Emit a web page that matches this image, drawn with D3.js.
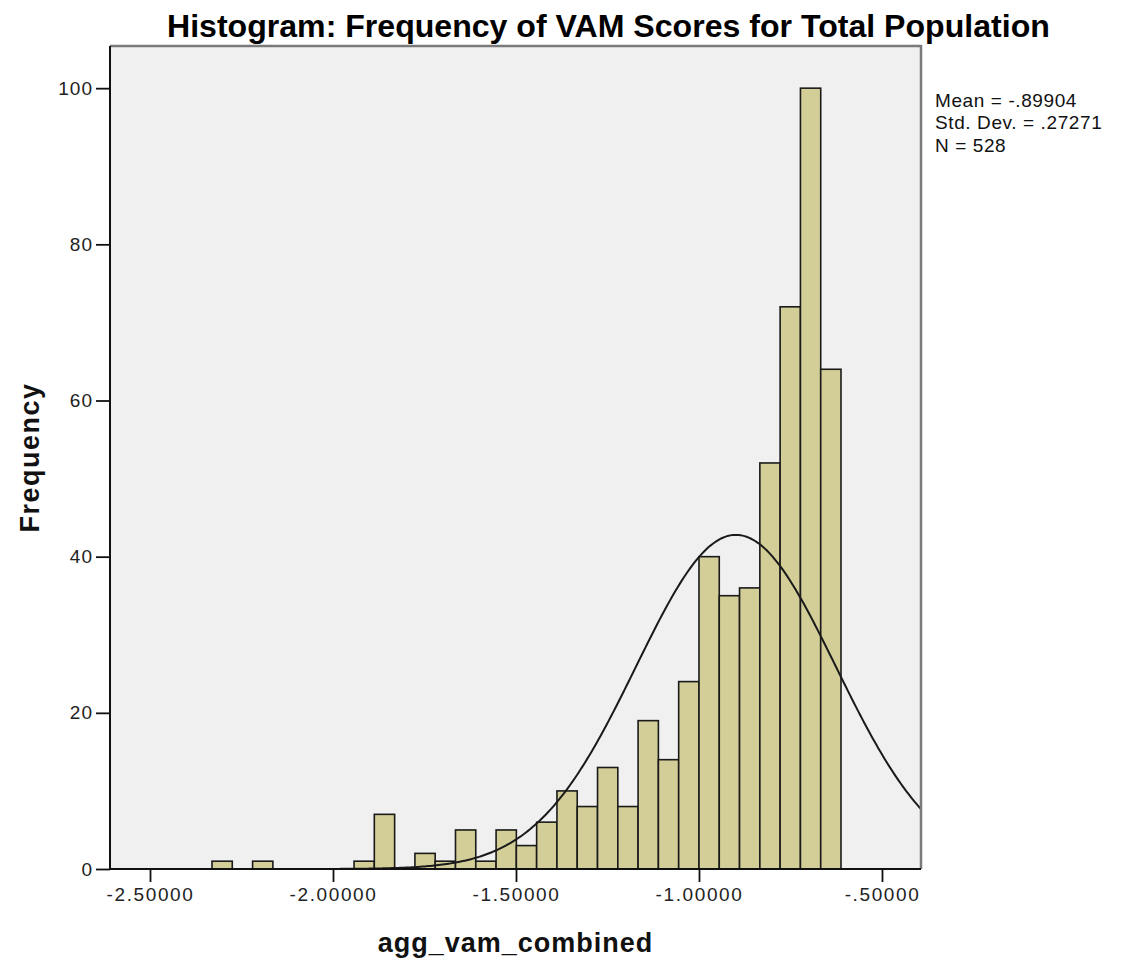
<!DOCTYPE html>
<html>
<head>
<meta charset="utf-8">
<script src="https://cdn.jsdelivr.net/npm/d3@7"></script>
<style>
  body { margin: 0; background: #fff; }
  svg { display: block; font-family: "Liberation Sans", Arial, sans-serif; }
</style>
</head>
<body>
<svg id="chart" width="1122" height="963"></svg>
<script>
// ---- data ----
const binEdges = [-2.3306, -2.2752, -2.2197, -2.1643, -2.1088, -2.0534, -1.9980, -1.9425,
  -1.8871, -1.8316, -1.7762, -1.7208, -1.6653, -1.6099, -1.5544, -1.4990, -1.4436,
  -1.3881, -1.3327, -1.2772, -1.2218, -1.1664, -1.1109, -1.0555, -1.0000, -0.9446,
  -0.8892, -0.8337, -0.7783, -0.7228, -0.6674, -0.6120];
const counts = [1, 0, 1, 0, 0, 0, 0, 1, 7, 0, 2, 1, 5, 1, 5, 3, 6, 10, 8, 13, 8, 19, 14, 24,
  40, 35, 36, 52, 72, 100, 64];
const xTicks = [-2.5, -2.0, -1.5, -1.0, -0.5];
const xTickLabels = ["-2.50000", "-2.00000", "-1.50000", "-1.00000", "-.50000"];
const yTicks = [0, 20, 40, 60, 80, 100];
const statLines = ["Mean = -.89904", "Std. Dev. = .27271", "N = 528"];
const meanVal = -0.89904, sdVal = 0.27271, nVal = 528;
const titleText = "Histogram: Frequency of VAM Scores for Total Population";
const xLabel = "agg_vam_combined";
const yLabel = "Frequency";

// ---- layout ----
const L = 110, R = 921, T = 46, B = 869;
const svg = d3.select("#chart");
const x = d3.scaleLinear().domain([-2.6093, -0.3934]).range([L, R]);
const y = d3.scaleLinear().domain([0, 105.4]).range([B, T]);

// plot background
svg.append("rect").attr("x", L).attr("y", T).attr("width", R - L).attr("height", B - T)
  .attr("fill", "#f0f0f0");

// bars
const bins = counts.map((c, i) => ({x0: binEdges[i], x1: binEdges[i + 1], c}));
svg.append("g").selectAll("rect").data(bins.filter(d => d.c > 0)).join("rect")
  .attr("x", d => x(d.x0))
  .attr("y", d => y(d.c))
  .attr("width", d => x(d.x1) - x(d.x0))
  .attr("height", d => y(0) - y(d.c))
  .attr("fill", "#d3ce97")
  .attr("stroke", "#1a1a1a")
  .attr("stroke-width", 1.6);

// normal curve
const bw = binEdges[1] - binEdges[0];
const curveX = d3.range(0, 401).map(i => x.domain()[0] + i * (x.domain()[1] - x.domain()[0]) / 400);
const normal = v => nVal * bw / (sdVal * Math.sqrt(2 * Math.PI)) * Math.exp(-0.5 * ((v - meanVal) / sdVal) ** 2);
svg.append("path").datum(curveX)
  .attr("d", d3.line().x(v => x(v)).y(v => y(normal(v))))
  .attr("fill", "none").attr("stroke", "#1a1a1a").attr("stroke-width", 2);

// top & right frame (gray)
svg.append("path").attr("d", `M${L},${T}H${R}V${B}`)
  .attr("fill", "none").attr("stroke", "#7a7a7a").attr("stroke-width", 2.5);

// axes
const xAxis = svg.append("g").attr("transform", `translate(0,${B})`)
  .call(d3.axisBottom(x).tickValues(xTicks).tickFormat((d, i) => xTickLabels[i]).tickSize(13).tickSizeOuter(0));
const yAxis = svg.append("g").attr("transform", `translate(${L},0)`)
  .call(d3.axisLeft(y).tickValues(yTicks).tickSize(14).tickSizeOuter(0));
[xAxis, yAxis].forEach(g => {
  g.select(".domain").attr("stroke", "#111").attr("stroke-width", 2);
  g.selectAll(".tick line").attr("stroke", "#111").attr("stroke-width", 1.8);
  g.selectAll(".tick text").attr("fill", "#222").attr("font-size", 19)
    .attr("font-family", "Liberation Sans, Arial, sans-serif");
});
xAxis.select(".domain").attr("d", `M${L},0H${R}`);
yAxis.select(".domain").attr("d", `M0,${T}V${B}`);
xAxis.selectAll(".tick text").attr("y", 32).attr("dy", null).attr("letter-spacing", 1.6);
yAxis.selectAll(".tick text").attr("x", -17).attr("letter-spacing", 1);

// title
const title = svg.append("text").attr("x", 167).attr("y", 37)
  .attr("font-weight", "bold").attr("font-size", 28).attr("fill", "#000").text(titleText);
const tw = title.node().getComputedTextLength();
title.attr("font-size", 28 * 883 / tw);

// axis labels
svg.append("text").attr("x", (L + R) / 2).attr("y", 952).attr("text-anchor", "middle")
  .attr("font-weight", "bold").attr("font-size", 27).attr("letter-spacing", 1)
  .attr("fill", "#111").text(xLabel);
svg.append("text").attr("transform", `translate(39,${(T + B) / 2}) rotate(-90)`)
  .attr("text-anchor", "middle").attr("font-weight", "bold").attr("font-size", 27)
  .attr("letter-spacing", 1.5).attr("fill", "#111").text(yLabel);

// stats
svg.append("g").selectAll("text").data(statLines).join("text")
  .attr("x", 935).attr("y", (d, i) => 107 + i * 22.3)
  .attr("font-size", 19).attr("letter-spacing", 0.6).attr("fill", "#111").text(d => d);
</script>
</body>
</html>
